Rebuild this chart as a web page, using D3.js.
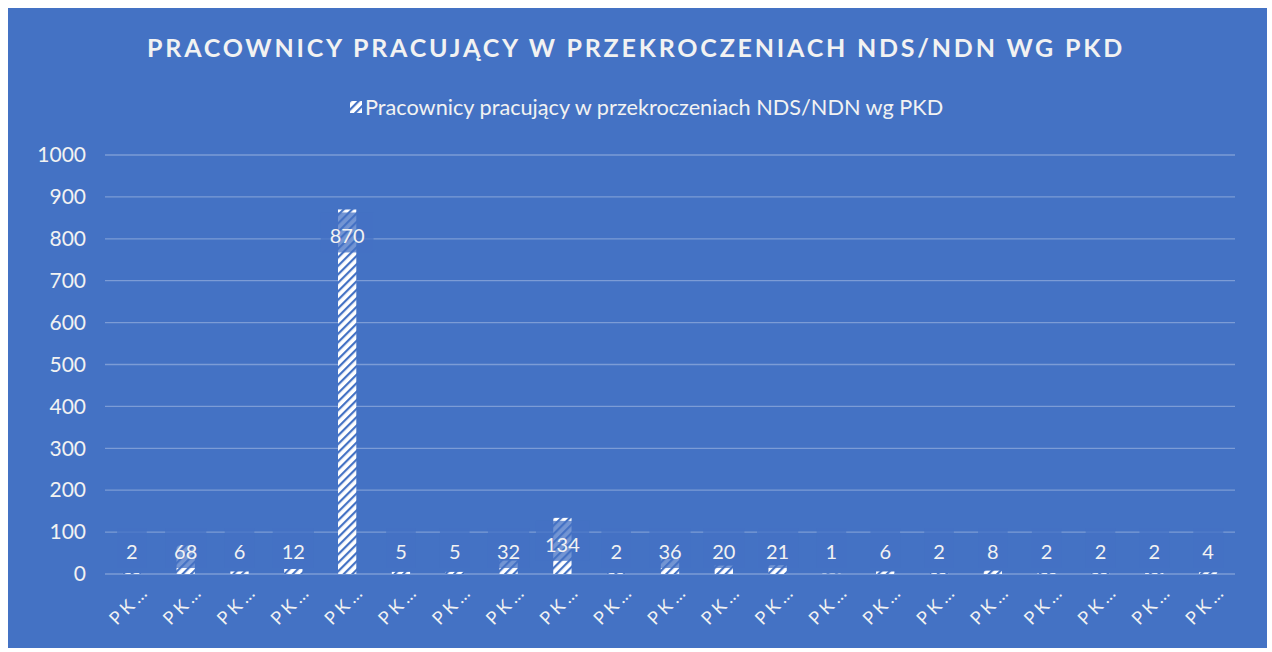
<!DOCTYPE html>
<html><head><meta charset="utf-8">
<script src="https://cdn.jsdelivr.net/npm/d3@7"></script>
<style>html,body{margin:0;padding:0;background:#fff;}svg{display:block;}</style>
</head><body>
<script>
const categories = ["PK…","PK…","PK…","PK…","PK…","PK…","PK…","PK…","PK…","PK…","PK…","PK…","PK…","PK…","PK…","PK…","PK…","PK…","PK…","PK…","PK…"];
const values = [2,68,6,12,870,5,5,32,134,2,36,20,21,1,6,2,8,2,2,2,4];
const yTicks = [0,100,200,300,400,500,600,700,800,900,1000];
const title = "PRACOWNICY PRACUJĄCY W PRZEKROCZENIACH NDS/NDN WG PKD";
const seriesName = "Pracownicy pracujący w przekroczeniach NDS/NDN wg PKD";

const W = 1272, H = 652, BG = "#4472C4", FG = "#F2F2F2";
const font = "Lato, 'Open Sans', sans-serif";
const svg = d3.select("body").append("svg").attr("width", W).attr("height", H);
const defs = svg.append("defs");
const pat = defs.append("pattern").attr("id","hatch").attr("patternUnits","userSpaceOnUse")
  .attr("width",6).attr("height",6).attr("patternTransform","rotate(45)");
pat.append("rect").attr("width",6).attr("height",6).attr("fill","#fff");
pat.append("rect").attr("x",0).attr("width",2.2).attr("height",6).attr("fill",BG);

svg.append("rect").attr("x",8).attr("y",8).attr("width",1259).attr("height",640).attr("fill",BG);

const x = d3.scaleBand().domain(d3.range(values.length)).range([105,1235]).paddingInner(0.66).paddingOuter(0.33);
const y = d3.scaleLinear().domain([0,1000]).range([574,155]);

const g = svg.append("g");
g.selectAll("line.grid").data(yTicks).join("line").attr("class","grid")
  .attr("x1",105).attr("x2",1235).attr("y1",d=>y(d)).attr("y2",d=>y(d))
  .attr("stroke","#fff").attr("stroke-opacity",0.3).attr("stroke-width",1.3);

const yAxis = d3.axisLeft(y).tickValues(yTicks).tickFormat(d3.format("d")).tickSize(0).tickPadding(0);
const ya = svg.append("g").attr("transform","translate(86,0)").call(yAxis);
ya.select(".domain").remove();
ya.selectAll("text").attr("fill",FG).style("font-family",font).style("font-size","21px");

g.selectAll("rect.bar").data(values).join("rect").attr("class","bar")
  .attr("x",(d,i)=>x(i)).attr("width",x.bandwidth())
  .attr("y",d=>y(d)).attr("height",d=>y(0)-y(d)).attr("fill","url(#hatch)");

// data labels with semi-transparent background boxes
const lab = svg.append("g");
values.forEach((v,i)=>{
  const cx = x(i)+x.bandwidth()/2;
  const cy = Math.min(y(v)+27, y(0)-22);
  const t = lab.append("text").attr("x",cx).attr("y",cy).attr("dy","0.35em")
    .attr("text-anchor","middle").attr("fill",FG).style("font-family",font).style("font-size","20px").text(v);
  const bb = t.node().getBBox();
  lab.insert("rect","text").attr("x",bb.x-9).attr("y",cy-24).attr("width",bb.width+18).attr("height",40)
    .attr("fill",BG).attr("fill-opacity",0.75);
});

const xAxis = d3.axisBottom(x).tickFormat(i=>categories[i]).tickSize(0);
const xa = svg.append("g").attr("transform",`translate(0,${y(0)})`).call(xAxis);
xa.select(".domain").remove();
xa.selectAll("text").attr("fill",FG).style("font-family",font).style("font-size","18px")
  .style("letter-spacing","4px")
  .attr("text-anchor","end").attr("dy",0).attr("y",0)
  .attr("transform","translate(19,18) rotate(-45)");

svg.append("text").attr("x",636).attr("y",57).attr("text-anchor","middle").attr("fill",FG)
  .style("font-family",font).style("font-weight","bold").style("font-size","25px").style("letter-spacing","2.8px").text(title);

const leg = svg.append("g");
leg.append("rect").attr("x",350).attr("y",101).attr("width",12).attr("height",12).attr("fill","url(#hatch)");
leg.append("text").attr("x",365).attr("y",107).attr("dy","0.35em").attr("fill",FG)
  .style("font-family",font).style("font-size","21.7px").text(seriesName);
</script>
</body></html>
